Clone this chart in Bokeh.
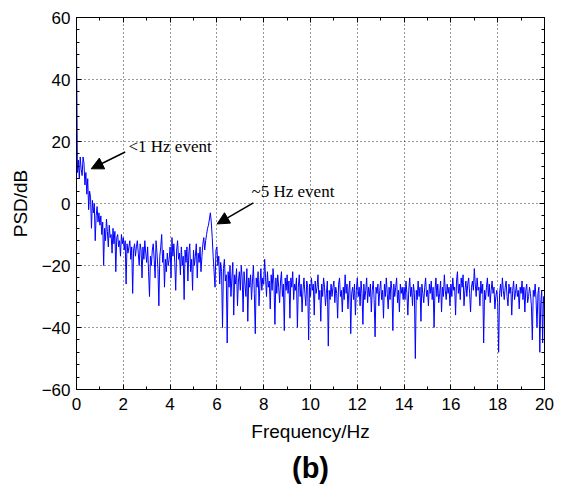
from bokeh.plotting import figure
from bokeh.models import (LinearAxis, Range1d, Label, Arrow, NormalHead, Title,
                          SingleIntervalTicker, ColumnDataSource)
from bokeh.embed import file_html
from bokeh.resources import INLINE

# ---- data (frequency step 0.04 Hz) ----
freq_step = 0.04
psd_db = [
    # 0-1 Hz
    52, 10, 14, 8, 15, 11, 9, 15, 13, 6, 10, 3, 8, -2, 4, 2, -8, 1, -3, 0, -12, -4, -1, -6, -3,
    # 1-2 Hz
    -7, -4, -10, -6, -20, -8, -12, -5, -9, -14, -7, -11, -10, -16, -8, -13, -9, -22, -11, -10, -14, -12, -17, -10, -13,
    # 2-3 Hz
    -11, -15, -12, -26, -13, -16, -14, -12, -18, -14, -29, -15, -13, -17, -14, -12, -16, -20, -13, -15, -24, -14, -18, -12, -16,
    # 3-4 Hz
    -19, -14, -22, -30, -17, -20, -15, -13, -18, -24, -12, -16, -21, -33, -17, -14, -10, -19, -15, -27, -18, -22, -16, -20, -18,
    # 4-5 Hz
    -14, -24, -11, -17, -13, -19, -28, -15, -12, -18, -16, -23, -14, -20, -17, -31, -15, -19, -14, -25, -16, -13, -22, -18, -28,
    # 5-6 Hz
    -15, -20, -17, -13, -24, -16, -19, -14, -22, -17, -13, -11, -15, -12, -10, -8, -7, -5, -3, -6, -11, -17, -22, -27, -15,
    # 6-7 Hz
    -14, -20, -17, -26, -19, -22, -40, -21, -18, -25, -23, -45, -22, -27, -20, -30, -24, -19, -36, -23, -26, -21, -33, -25, -22,
    # 7-8 Hz
    -28, -20, -24, -35, -22, -26, -30, -21, -38, -24, -27, -23, -31, -25, -20, -29, -42, -24, -27, -22, -33, -26, -21, -28, -24,
    # 8-9 Hz
    -26, -18, -24, -30, -22, -27, -25, -34, -23, -28, -21, -26, -39, -24, -29, -23, -27, -32, -25, -22, -30, -26, -41, -24, -28,
    # 9-10 Hz
    -23, -29, -25, -37, -24, -27, -22, -31, -26, -28, -24, -40, -27, -23, -30, -26, -35, -28, -24, -29, -33, -25, -27, -44, -26,
    # 10-11 Hz
    -30, -24, -28, -26, -36, -25, -29, -27, -23, -31, -28, -38, -26, -30, -24, -27, -33, -29, -25, -46, -28, -31, -26, -30, -27,
    # 11-12 Hz
    -25, -32, -27, -29, -37, -26, -24, -30, -28, -35, -27, -31, -23, -29, -26, -34, -28, -25, -42, -29, -27, -31, -26, -36, -28,
    # 12-13 Hz
    -24, -30, -27, -33, -25, -29, -39, -26, -31, -28, -24, -32, -27, -30, -26, -35, -28, -25, -31, -43, -27, -29, -26, -33, -28,
    # 13-14 Hz
    -25, -31, -28, -37, -26, -30, -24, -29, -34, -27, -31, -25, -28, -41, -26, -30, -27, -24, -32, -28, -35, -26, -29, -27, -31,
    # 14-15 Hz
    -27, -31, -25, -29, -36, -28, -24, -30, -27, -33, -26, -29, -50, -28, -31, -25, -30, -27, -38, -26, -29, -32, -27, -24, -30,
    # 15-16 Hz
    -28, -33, -26, -29, -25, -31, -27, -40, -28, -24, -30, -26, -32, -29, -25, -35, -27, -30, -23, -28, -31, -26, -29, -27, -33,
    # 16-17 Hz
    -26, -30, -24, -28, -27, -36, -25, -22, -29, -26, -31, -24, -27, -23, -33, -28, -25, -30, -26, -24, -29, -35, -27, -25, -28,
    # 17-18 Hz
    -21, -26, -30, -24, -28, -27, -33, -25, -29, -26, -45, -28, -31, -27, -24, -30, -26, -32, -28, -25, -29, -27, -34, -30, -28,
    # 18-19 Hz
    -32, -48, -29, -26, -30, -24, -28, -31, -27, -25, -30, -33, -26, -29, -27, -36, -28, -25, -31, -29, -26, -30, -28, -34, -27,
    # 19-20 Hz
    -29, -25, -31, -27, -35, -28, -26, -32, -30, -27, -29, -33, -44, -28, -30, -26, -31, -40, -29, -27, -48, -32, -28, -45, -30,
    -33,
]
frequency = [round(i * freq_step, 4) for i in range(len(psd_db))]

x_ticks_major = 2
y_ticks_major = 20
x_label = "Frequency/Hz"
y_label = "PSD/dB"
panel_label = "(b)"
annot1 = dict(text="<1 Hz event", x=2.22, y=18.3, tail=(2.08, 16.6), tip=(0.63, 11.2))
annot2 = dict(text="~5 Hz event", x=7.48, y=4.0, tail=(7.56, 0.2), tip=(6.01, -6.6))

src = ColumnDataSource(dict(f=frequency, p=psd_db))

p = figure(width=566, height=488, output_backend="svg", toolbar_location=None,
           x_range=Range1d(0, 20), y_range=Range1d(-60, 60),
           min_border_left=76, min_border_right=22, min_border_top=17, min_border_bottom=4,
           background_fill_color="white", border_fill_color="white")
p.outline_line_color = "black"
p.outline_line_width = 1

p.line("f", "p", source=src, line_color="#0000ff", line_width=1)

FONT = "Liberation Sans"

def style_axis(ax):
    ax.major_tick_in = 5
    ax.major_tick_out = 0
    ax.minor_tick_in = 3
    ax.minor_tick_out = 0
    ax.axis_line_color = "black"
    ax.major_tick_line_color = "black"
    ax.minor_tick_line_color = "black"
    ax.major_label_text_font = FONT
    ax.major_label_text_color = "black"
    ax.major_label_text_font_size = "17px"
    ax.axis_label_text_font = FONT
    ax.axis_label_text_font_style = "normal"
    ax.axis_label_text_font_size = "19px"
    ax.axis_label_text_color = "black"

xt = SingleIntervalTicker(interval=x_ticks_major, num_minor_ticks=2)
yt = SingleIntervalTicker(interval=y_ticks_major, num_minor_ticks=5)

p.xaxis.ticker = xt
p.yaxis.ticker = yt
p.xaxis.axis_label = x_label
p.yaxis.axis_label = y_label
for ax in p.xaxis + p.yaxis:
    style_axis(ax)
p.xaxis.major_label_standoff = 8
p.yaxis.major_label_standoff = 6
p.xaxis.axis_label_standoff = 8
p.yaxis.axis_label_standoff = 8

xvals = list(range(0, 21, x_ticks_major))
yvals = list(range(-60, 61, y_ticks_major))
ax_r = LinearAxis(ticker=SingleIntervalTicker(interval=y_ticks_major, num_minor_ticks=5))
style_axis(ax_r)
ax_r.major_label_overrides = {v: "" for v in yvals}
ax_r.major_label_standoff = 0
p.add_layout(ax_r, "right")
ax_t = LinearAxis(ticker=SingleIntervalTicker(interval=x_ticks_major, num_minor_ticks=2))
style_axis(ax_t)
ax_t.major_label_overrides = {v: "" for v in xvals}
ax_t.major_label_standoff = 0
p.add_layout(ax_t, "above")

p.xgrid.ticker = xt
p.ygrid.ticker = yt
for g in (p.xgrid, p.ygrid):
    g.grid_line_color = "black"
    g.grid_line_dash = "1 3"
    g.grid_line_width = 1
    g.grid_line_alpha = 0.8

for a in (annot1, annot2):
    p.add_layout(Label(x=a["x"], y=a["y"], text=a["text"], text_font="Liberation Serif",
                       text_font_size="17px", text_color="black", text_baseline="alphabetic"))
    p.add_layout(Arrow(x_start=a["tail"][0], y_start=a["tail"][1], x_end=a["tip"][0], y_end=a["tip"][1],
                       line_color="black", line_width=1.5,
                       end=NormalHead(size=12, fill_color="black", line_color="black")))

t = Title(text=panel_label, align="center", text_font=FONT, text_font_size="29px",
          text_font_style="bold", text_color="black")
p.add_layout(t, "below")

open("out.html", "w").write(file_html(p, INLINE))
